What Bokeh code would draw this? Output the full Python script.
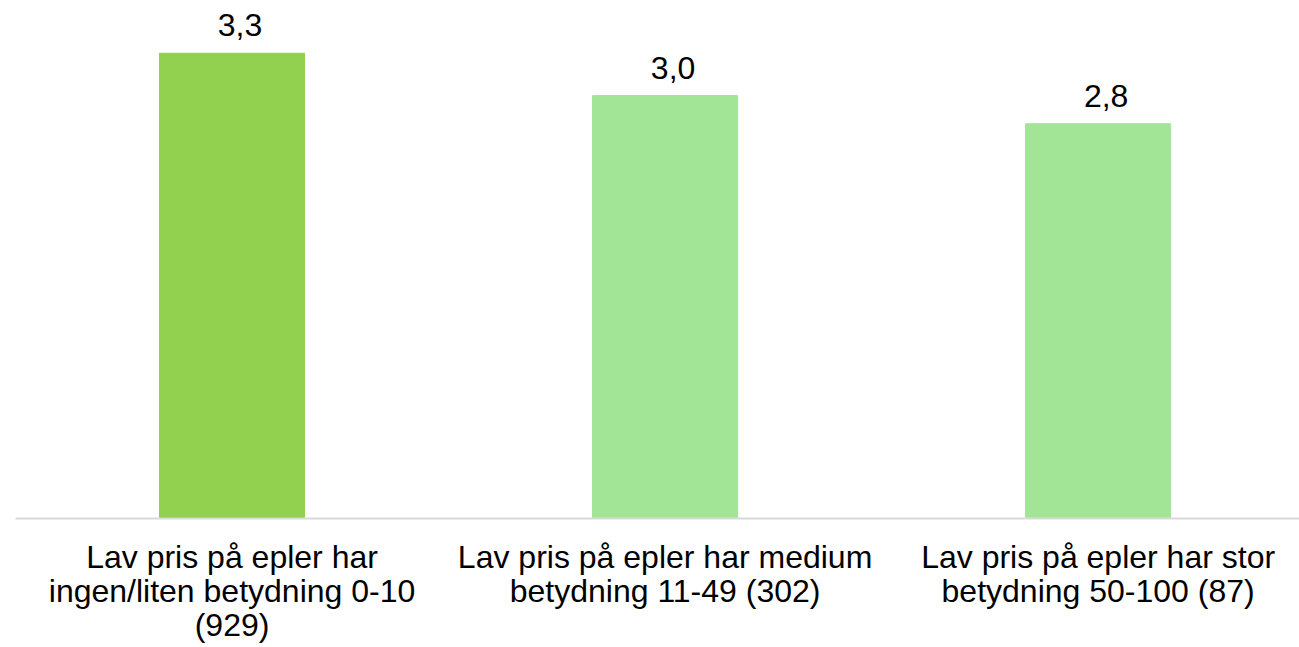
from bokeh.plotting import figure
from bokeh.models import ColumnDataSource, Range1d, FixedTicker
from bokeh.core.properties import value
from bokeh.embed import file_html
from bokeh.resources import INLINE

# Chart data
categories = [
    "Lav pris på epler har ingen/liten betydning 0-10 (929)",
    "Lav pris på epler har medium betydning 11-49 (302)",
    "Lav pris på epler har stor betydning 50-100 (87)",
]
category_lines = [
    "Lav pris på epler har\ningen/liten betydning 0-10\n(929)",
    "Lav pris på epler har medium\nbetydning 11-49 (302)",
    "Lav pris på epler har stor\nbetydning 50-100 (87)",
]
values = [3.3, 3.0, 2.8]
colors = ["#92D050", "#A3E597", "#A3E597"]

xs = list(range(len(categories)))
labels = [f"{v:.1f}".replace(".", ",") for v in values]

source = ColumnDataSource(dict(x=xs, top=values, color=colors, label=labels))

p = figure(
    frame_width=1284, frame_height=518,
    x_range=Range1d(-0.5, 2.465), y_range=Range1d(0, 3.674),
    output_backend="svg", toolbar_location=None,
    min_border_left=15, min_border_right=0, min_border_top=0, min_border_bottom=0,
)
p.outline_line_color = None
p.background_fill_color = "white"
p.border_fill_color = "white"
p.xgrid.visible = False
p.ygrid.visible = False
p.yaxis.visible = False

p.vbar(x="x", top="top", bottom=0, width=0.335, color="color", source=source)

p.text(x="x", y="top", text="label", source=source,
       text_align="center", text_baseline="alphabetic",
       x_offset=8, y_offset=-28,
       text_font=value("Liberation Sans"), text_font_size="32px",
       text_color="#000000")

xa = p.xaxis[0]
xa.ticker = FixedTicker(ticks=xs)
xa.major_label_overrides = {x: t for x, t in zip(xs, category_lines)}
xa.major_tick_line_color = None
xa.minor_tick_line_color = None
xa.major_tick_out = 0
xa.major_tick_in = 0
xa.axis_line_color = "#D9D9D9"
xa.axis_line_width = 2
xa.major_label_text_font = "Liberation Sans"
xa.major_label_text_font_size = "32px"
xa.major_label_text_color = "#000000"
xa.major_label_standoff = 20
xa.major_label_text_line_height = 0.95

open("out.html", "w").write(file_html(p, INLINE))
